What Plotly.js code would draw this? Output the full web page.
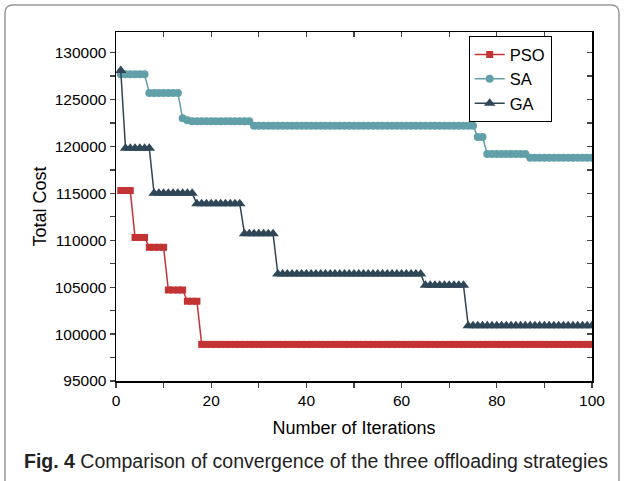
<!DOCTYPE html>
<html>
<head>
<meta charset="utf-8">
<script src="https://cdn.plot.ly/plotly-3.0.1.min.js"></script>
<style>
html,body{margin:0;padding:0;background:#fff;}
#chart{width:624px;height:481px;}
</style>
</head>
<body>
<div id="chart"></div>
<script>
var iterations = [
1,2,3,4,5,6,7,8,9,10,
11,12,13,14,15,16,17,18,19,20,
21,22,23,24,25,26,27,28,29,30,
31,32,33,34,35,36,37,38,39,40,
41,42,43,44,45,46,47,48,49,50,
51,52,53,54,55,56,57,58,59,60,
61,62,63,64,65,66,67,68,69,70,
71,72,73,74,75,76,77,78,79,80,
81,82,83,84,85,86,87,88,89,90,
91,92,93,94,95,96,97,98,99,100];

var psoCost = [
115300,115300,115300,110300,110300,110300,109250,109250,109250,109250,
104700,104700,104700,104700,103500,103500,103500,98900,98900,98900,
98900,98900,98900,98900,98900,98900,98900,98900,98900,98900,
98900,98900,98900,98900,98900,98900,98900,98900,98900,98900,
98900,98900,98900,98900,98900,98900,98900,98900,98900,98900,
98900,98900,98900,98900,98900,98900,98900,98900,98900,98900,
98900,98900,98900,98900,98900,98900,98900,98900,98900,98900,
98900,98900,98900,98900,98900,98900,98900,98900,98900,98900,
98900,98900,98900,98900,98900,98900,98900,98900,98900,98900,
98900,98900,98900,98900,98900,98900,98900,98900,98900,98900];

var saCost = [
127700,127700,127700,127700,127700,127700,125700,125700,125700,125700,
125700,125700,125700,123000,122800,122700,122700,122700,122700,122700,
122700,122700,122700,122700,122700,122700,122700,122700,122200,122200,
122200,122200,122200,122200,122200,122200,122200,122200,122200,122200,
122200,122200,122200,122200,122200,122200,122200,122200,122200,122200,
122200,122200,122200,122200,122200,122200,122200,122200,122200,122200,
122200,122200,122200,122200,122200,122200,122200,122200,122200,122200,
122200,122200,122200,122200,122200,121000,121000,119200,119200,119200,
119200,119200,119200,119200,119200,119200,118800,118800,118800,118800,
118800,118800,118800,118800,118800,118800,118800,118800,118800,118800];

var gaCost = [
128100,119800,119800,119800,119800,119800,119800,115000,115000,115000,
115000,115000,115000,115000,115000,115000,113900,113900,113900,113900,
113900,113900,113900,113900,113900,113900,110700,110700,110700,110700,
110700,110700,110700,106400,106400,106400,106400,106400,106400,106400,
106400,106400,106400,106400,106400,106400,106400,106400,106400,106400,
106400,106400,106400,106400,106400,106400,106400,106400,106400,106400,
106400,106400,106400,106400,105200,105200,105200,105200,105200,105200,
105200,105200,105200,100900,100900,100900,100900,100900,100900,100900,
100900,100900,100900,100900,100900,100900,100900,100900,100900,100900,
100900,100900,100900,100900,100900,100900,100900,100900,100900,100900];

var seriesNames = ['PSO', 'SA', 'GA'];
var xTickVals = [0, 20, 40, 60, 80, 100];
var xTickText = ['0', '20', '40', '60', '80', '100'];
var yTickVals = [95000, 100000, 105000, 110000, 115000, 120000, 125000, 130000];
var yTickText = ['95000', '100000', '105000', '110000', '115000', '120000', '125000', '130000'];

var colRed = '#C43333', colTeal = '#61A0A9', colDark = '#2F4657';
var font = 'Liberation Sans, Arial, Helvetica, sans-serif';

var traces = [
  {x: iterations, y: psoCost, name: seriesNames[0], type: 'scatter', mode: 'lines+markers',
   line: {color: colRed, width: 1.5}, marker: {symbol: 'square', size: 7, color: colRed}},
  {x: iterations, y: saCost, name: seriesNames[1], type: 'scatter', mode: 'lines+markers',
   line: {color: colTeal, width: 1.5}, marker: {symbol: 'circle', size: 8, color: colTeal}},
  {x: iterations, y: gaCost, name: seriesNames[2], type: 'scatter', mode: 'lines+markers',
   line: {color: colDark, width: 1.5}, marker: {symbol: 'triangle-up', size: 10, color: colDark}},
  {x: [null], y: [null], xaxis: 'x2', yaxis: 'y2', showlegend: false, hoverinfo: 'skip', type: 'scatter', mode: 'markers'}
];

var xr = [0, 100], yr = [95000, 132200];

var layout = {
  width: 624, height: 481,
  margin: {l: 116, r: 32, t: 32, b: 100},
  paper_bgcolor: '#fff', plot_bgcolor: '#fff',
  font: {family: font, color: '#000', size: 15.5},
  showlegend: true,
  legend: {x: 0.741, y: 0.988, xanchor: 'left', yanchor: 'top',
    bordercolor: '#000', borderwidth: 1, bgcolor: '#fff',
    font: {family: font, size: 16.5, color: '#000'}, tracegroupgap: 0},
  xaxis: {range: xr, tickvals: xTickVals, ticktext: xTickText, ticks: 'outside', ticklen: 5, tickwidth: 1.3,
    showline: true, linecolor: '#000', linewidth: 1.5, showgrid: false, zeroline: false,
    minor: {tickvals: [10, 30, 50, 70, 90], ticks: 'outside', ticklen: 5, tickwidth: 1.3, showgrid: false},
    title: {text: 'Number of Iterations', font: {family: font, size: 18}, standoff: 13},
    tickfont: {family: font, size: 15.5}},
  yaxis: {range: yr, tickvals: yTickVals, ticktext: yTickText, ticks: 'outside', ticklen: 5, tickwidth: 1.3,
    showline: true, linecolor: '#000', linewidth: 1.5, showgrid: false, zeroline: false,
    minor: {tickvals: [97500, 102500, 107500, 112500, 117500, 122500, 127500], ticks: 'outside', ticklen: 5, tickwidth: 1.3, showgrid: false},
    title: {text: 'Total Cost', font: {family: font, size: 18}, standoff: 3},
    tickfont: {family: font, size: 15.5}},
  xaxis2: {overlaying: 'x', side: 'top', anchor: 'y', range: xr, tickvals: xTickVals, ticks: 'inside', ticklen: 5, tickwidth: 1.3,
    showline: true, linecolor: '#000', linewidth: 1.5, showticklabels: false, showgrid: false, zeroline: false,
    minor: {tickvals: [10, 30, 50, 70, 90], ticks: 'inside', ticklen: 5, tickwidth: 1.3, showgrid: false}},
  yaxis2: {overlaying: 'y', side: 'right', anchor: 'x', range: yr, tickvals: yTickVals, ticks: 'inside', ticklen: 5, tickwidth: 1.3,
    showline: true, linecolor: '#000', linewidth: 1.5, showticklabels: false, showgrid: false, zeroline: false,
    minor: {tickvals: [97500, 102500, 107500, 112500, 117500, 122500, 127500], ticks: 'inside', ticklen: 5, tickwidth: 1.3, showgrid: false}},
  shapes: [
    {type: 'path', xref: 'paper', yref: 'paper',
     path: 'M -0.2332,-0.32 L -0.2332,1.0544 Q -0.2332,1.0774 -0.2164,1.0774 L 1.0399,1.0774 Q 1.0567,1.0774 1.0567,1.0544 L 1.0567,-0.32',
     line: {color: '#9a9a9a', width: 1.5}}
  ],
  annotations: [
    {xref: 'paper', yref: 'paper', x: -0.197, y: -0.229, xanchor: 'left', yanchor: 'middle', showarrow: false,
     text: '<b>Fig. 4</b> Comparison of convergence of the three offloading strategies',
     font: {family: font, size: 19.5, color: '#222'}}
  ]
};

Plotly.newPlot('chart', traces, layout, {displayModeBar: false, staticPlot: true});
</script>
</body>
</html>
